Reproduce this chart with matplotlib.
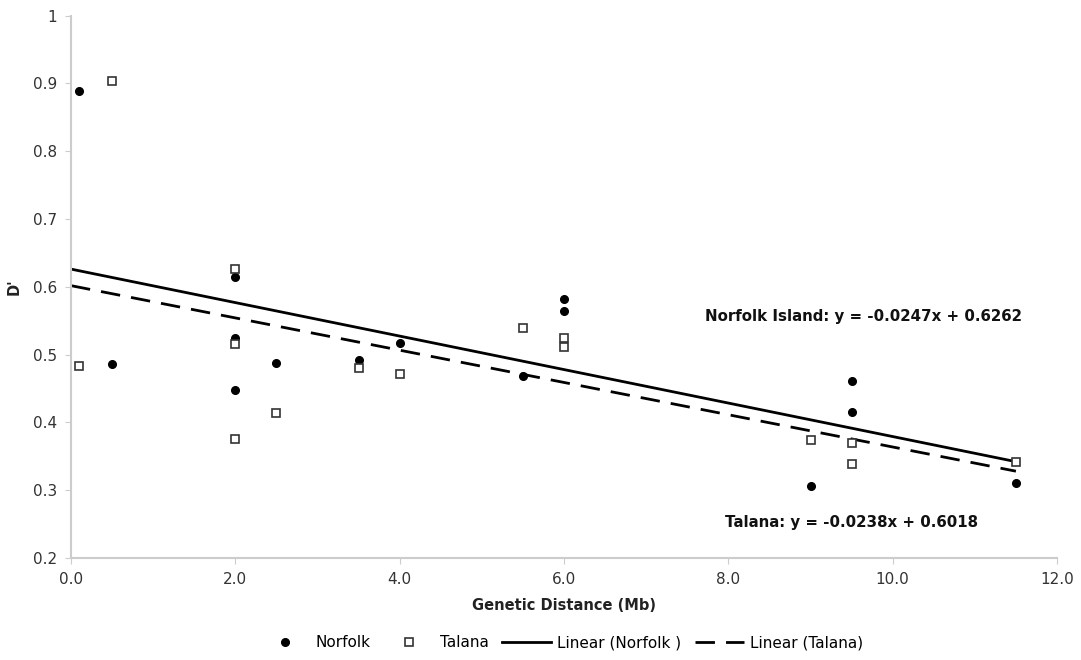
import numpy as np
import matplotlib
matplotlib.use("Agg")
import matplotlib.pyplot as plt


# genetic distance (Mb) and D' values
norfolk_x = [0.1, 0.5, 2.0, 2.0, 2.0, 2.5, 3.5, 4.0, 5.5, 6.0, 6.0, 9.0, 9.5, 9.5, 11.5]
norfolk_y = [0.889, 0.486, 0.615, 0.525, 0.448, 0.488, 0.492, 0.517, 0.468, 0.582, 0.565, 0.306, 0.461, 0.415, 0.311]

talana_x = [0.1, 0.5, 2.0, 2.0, 2.0, 2.5, 3.5, 4.0, 5.5, 6.0, 6.0, 9.0, 9.5, 9.5, 11.5]
talana_y = [0.483, 0.904, 0.627, 0.516, 0.376, 0.414, 0.480, 0.471, 0.539, 0.525, 0.511, 0.374, 0.369, 0.339, 0.342]

# trend line coefficients as printed on the chart
norfolk_fit = (-0.0247, 0.6262)
talana_fit = (-0.0238, 0.6018)
fit_range = [0.0, 11.5]

xticks = [0, 2, 4, 6, 8, 10, 12]
xtick_labels = ["0.0", "2.0", "4.0", "6.0", "8.0", "10.0", "12.0"]
yticks = [0.2, 0.3, 0.4, 0.5, 0.6, 0.7, 0.8, 0.9, 1.0]
ytick_labels = ["0.2", "0.3", "0.4", "0.5", "0.6", "0.7", "0.8", "0.9", "1"]

plt.rcParams['font.family'] = ['DejaVu Sans']

fig = plt.figure(figsize=(10.81, 6.60), dpi=100)
ax = fig.add_axes([0.0657, 0.1545, 0.9121, 0.8217])

h1, = ax.plot(norfolk_x, norfolk_y, 'o', color='black', markersize=5.5,
              linestyle='none', label='Norfolk', zorder=3)
h2, = ax.plot(talana_x, talana_y, 's', markerfacecolor='white', markeredgecolor='#333333',
              markeredgewidth=1.2, markersize=5.5, linestyle='none', label='Talana', zorder=3)

fx = np.array(fit_range)
h3, = ax.plot(fx, norfolk_fit[0] * fx + norfolk_fit[1], color='black', lw=2,
              label='Linear (Norfolk )', zorder=2)
h4, = ax.plot(fx, talana_fit[0] * fx + talana_fit[1], color='black', lw=2,
              dashes=(7, 4), label='Linear (Talana)', zorder=2)

ax.set_xlim(0, 12)
ax.set_ylim(0.2, 1.0)
ax.set_xticks(xticks)
ax.set_xticklabels(xtick_labels)
ax.set_yticks(yticks)
ax.set_yticklabels(ytick_labels)

for s in ['top', 'right']:
    ax.spines[s].set_visible(False)
for s in ['left', 'bottom']:
    ax.spines[s].set_color('#cccccc')
    ax.spines[s].set_linewidth(1.5)
ax.tick_params(axis='both', direction='out', length=4, color='#cccccc',
               labelsize=11, labelcolor='#333333', pad=6)

ax.set_xlabel("Genetic Distance (Mb)", fontsize=10.5, fontweight='bold', color='#222222', labelpad=8)
ax.set_ylabel("D'", fontsize=10.5, fontweight='bold', color='#222222', labelpad=8)

ax.text(9.64, 0.556, "Norfolk Island: y = -0.0247x + 0.6262", fontsize=10.8,
        fontweight='bold', ha='center', va='center', color='#111111')
ax.text(9.50, 0.253, "Talana: y = -0.0238x + 0.6018", fontsize=10.8,
        fontweight='bold', ha='center', va='center', color='#111111')

fig.legend(handles=[h1, h2, h3, h4], loc='center', bbox_to_anchor=(0.52, 0.026),
           ncol=4, frameon=False, fontsize=11, handlelength=3.2, columnspacing=0.9,
           handletextpad=0.4)

fig.savefig("out.png", dpi=100)
